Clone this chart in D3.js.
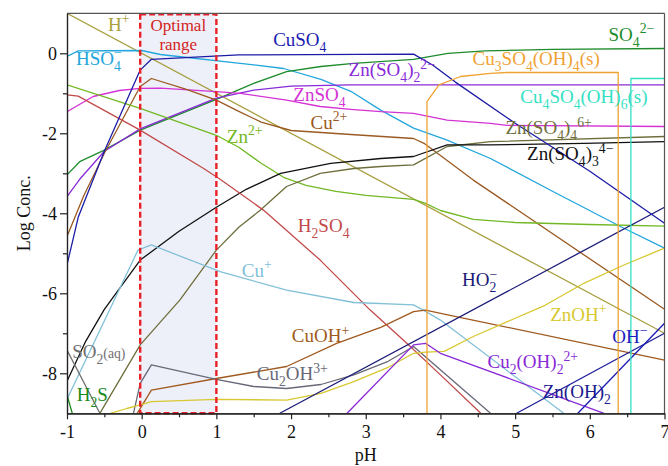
<!DOCTYPE html>
<html>
<head>
<meta charset="utf-8">
<script src="https://cdn.jsdelivr.net/npm/d3@7"></script>
<style>
  body { margin: 0; background: #fff; }
  text { font-family: "Liberation Serif", "Times New Roman", serif; }
</style>
</head>
<body>
<svg id="chart" width="668" height="466"></svg>
<script>
// axis ticks
const xTicks = [-1, 0, 1, 2, 3, 4, 5, 6, 7];
const xMinor = [-0.5, 0.5, 1.5, 2.5, 3.5, 4.5, 5.5, 6.5];
const yTicks = [0, -2, -4, -6, -8];
const yMinor = [-1, -3, -5, -7];
const optimalRange = [-0.02, 1.0];

// species, [pH, log conc.]
const H_plus   = [[-1, 1], [7, -7]];
const HSO4     = [[-1, -0.08], [-0.85, 0.06], [0, 0.07], [0.25, -0.03], [1.32, -0.25], [1.9, -0.38], [2.4, -0.65], [2.8, -0.95], [3.2, -1.42], [3.64, -1.87], [4.09, -2.17], [4.67, -2.63], [5.5, -3.45], [6.41, -4.33], [7, -4.87]];
const CuSO4    = [[-1, -5.29], [-0.85, -4.1], [-0.5, -2.45], [-0.02, -0.42], [0.13, -0.15], [1.3, -0.04], [3.64, -0.02], [3.9, -0.3], [4.2, -0.72], [5, -1.75], [6, -2.95], [7, -4.25]];
const SO4      = [[-1, -3.04], [-0.83, -2.71], [-0.5, -2.42], [-0.02, -1.92], [1, -1.15], [1.5, -0.75], [1.94, -0.46], [2.4, -0.33], [2.84, -0.25], [3.64, -0.15], [4.1, 0.0], [4.6, 0.06], [5.5, 0.1], [7, 0.12]];
const ZnSO4_2  = [[-1, -3.58], [-0.83, -3.15], [-0.5, -2.45], [-0.02, -1.89], [1, -1.12], [1.5, -0.92], [2, -0.82], [2.8, -0.79], [7, -0.79]];
const ZnSO4    = [[-1, -1.46], [-0.65, -1.08], [-0.3, -0.93], [-0.02, -0.875], [0.25, -0.87], [1, -0.96], [1.32, -1.0], [1.94, -1.17], [2.39, -1.33], [2.8, -1.4], [3.2, -1.46], [3.64, -1.5], [4.09, -1.67], [4.67, -1.75], [4.89, -1.8], [7, -1.83]];
const Cu2      = [[-1, -4.58], [-0.78, -3.58], [-0.5, -2.5], [-0.02, -0.83], [0.13, -0.63], [0.6, -0.9], [1, -1.17], [1.3, -1.45], [1.6, -1.72], [2, -1.93], [2.8, -2.03], [3.64, -2.13], [3.78, -2.25], [4.44, -3.17], [7, -6.4]];
const Zn2      = [[-1, -0.79], [-0.02, -1.375], [1, -2.05], [1.3, -2.35], [1.6, -2.75], [1.9, -3.1], [2.2, -3.3], [2.6, -3.45], [3, -3.55], [3.64, -3.65], [3.8, -3.75], [4, -3.93], [4.44, -4.15], [5, -4.23], [6, -4.28], [7, -4.32]];
const ZnSO4_4  = [[-0.56, -9], [-0.02, -7.29], [0.51, -6.17], [1, -4.92], [1.3, -4.35], [1.59, -3.92], [1.94, -3.33], [2.39, -3.0], [2.84, -2.88], [3.2, -2.83], [3.64, -2.79], [4.09, -2.33], [4.67, -2.21], [7, -2.08]];
const ZnSO4_3  = [[-1, -8.2], [-0.75, -7.2], [-0.5, -6.4], [-0.02, -5.17], [0.5, -4.45], [1, -3.85], [1.4, -3.4], [1.86, -3.0], [2.53, -2.75], [3.2, -2.63], [3.64, -2.58], [4.09, -2.29], [4.67, -2.29], [5.92, -2.25], [7, -2.21]];
const H2SO4    = [[-1, -1.04], [-0.85, -1.07], [-0.02, -1.92], [0.83, -2.88], [1.05, -3.15], [1.63, -3.92], [2.39, -5.17], [3.06, -6.42], [3.55, -7.25], [4, -8.04], [4.54, -9]];
const CuPlus   = [[-1, -8.65], [-0.4, -6.3], [-0.05, -4.92], [0.13, -4.79], [1.05, -5.46], [1.94, -5.92], [2.84, -6.23], [3.64, -6.29], [3.77, -6.42], [4, -6.67], [5.65, -9]];
const SO2aq    = [[-1, -7.42], [-0.56, -9]];
const H2S      = [[-1, -8.54], [-0.93, -9]];
const CuOH     = [[-0.06, -9], [0.13, -8.42], [1, -8.13], [1.94, -7.83], [2.61, -7.25], [3.2, -6.85], [3.64, -6.46], [3.8, -6.42], [4.13, -6.55], [7, -7.67]];
const Cu2OH3   = [[-0.11, -9], [-0.02, -8.25], [0.13, -7.79], [1, -8.15], [1.5, -8.33], [1.94, -8.38], [2.4, -8.28], [2.84, -8.04], [3.3, -7.7], [3.64, -7.33], [4.67, -9]];
const ZnOH     = [[-0.42, -9], [-0.2, -8.88], [-0.02, -8.79], [0.13, -8.71], [1, -8.65], [1.94, -8.67], [2.4, -8.5], [2.84, -8.21], [3.3, -7.85], [3.64, -7.5], [3.8, -7.47], [4.05, -7.45], [4.44, -7.08], [5.4, -6.3], [5.92, -5.75], [6.41, -5.33], [7, -4.87]];
const HO2      = [[1.85, -9], [7, -3.85]];
const OH       = [[5.02, -9], [7, -7]];
const ZnOH2    = [[5.84, -9], [7, -6.75]];
const Cu2OH2   = [[2.75, -9], [3.64, -7.29], [3.8, -7.25], [4, -7.5], [6.19, -9]];
const Cu3SO4OH4 = [[3.82, -9.3], [3.82, -1.21], [3.98, -0.79], [4.27, -0.58], [4.67, -0.5], [4.89, -0.48], [6.38, -0.48], [6.38, -9.3]];
const Cu4SO4OH6 = [[6.55, -9.3], [6.55, -0.63], [7.1, -0.63]];

const series = [
  { pts: H_plus, color: '#a8a040' },
  { pts: HSO4, color: '#22a6dc' },
  { pts: SO4, color: '#1e8c2c' },
  { pts: ZnSO4_2, color: '#8a2ad8' },
  { pts: ZnSO4, color: '#d432d4' },
  { pts: Cu2, color: '#9a5a22' },
  { pts: Zn2, color: '#72b824' },
  { pts: ZnSO4_4, color: '#6e6e3c' },
  { pts: ZnSO4_3, color: '#111111' },
  { pts: H2SO4, color: '#c24a4a' },
  { pts: CuPlus, color: '#82c0d8' },
  { pts: SO2aq, color: '#707070' },
  { pts: H2S, color: '#1a8a1a' },
  { pts: CuOH, color: '#a05a20' },
  { pts: Cu2OH3, color: '#686878' },
  { pts: ZnOH, color: '#d8c830' },
  { pts: Cu2OH2, color: '#8a28d8' },
  { pts: HO2, color: '#1a1a78' },
  { pts: OH, color: '#1c1c9a' },
  { pts: ZnOH2, color: '#1a1ab4' },
  { pts: CuSO4, color: '#1c1ca6' },
  { pts: Cu3SO4OH4, color: '#f0a232' },
  { pts: Cu4SO4OH6, color: '#34e0c4' }
];

// label text uses _{} sub, ^{} sup, ^!{} sup stacked over sub, ~{} small
const labels = [
  { t: 'H^{+}', at: [-0.45, 0.56], c: '#a8a040' },
  { t: 'HSO_{4}^!{−}', at: [-0.88, -0.29], c: '#22a6dc' },
  { t: 'CuSO_{4}', at: [1.76, 0.18], c: '#1c1cb0' },
  { t: 'SO_{4}^{2−}', at: [6.25, 0.31], c: '#1e8c2c' },
  { t: 'Zn(SO_{4})_{2}^{2−}', at: [2.77, -0.57], c: '#8a2ad8' },
  { t: 'Cu_{3}SO_{4}(OH)_{4}(s)', at: [4.43, -0.29], c: '#f0a232' },
  { t: 'ZnSO_{4}', at: [2.03, -1.19], c: '#d432d4' },
  { t: 'Cu_{4}SO_{4}(OH)_{6}(s)', at: [5.07, -1.24], c: '#34e0c4' },
  { t: 'Cu^{2+}', at: [2.26, -1.89], c: '#9a5a22' },
  { t: 'Zn(SO_{4})_{4}^{6+}', at: [4.87, -2.02], c: '#6e6e3c' },
  { t: 'Zn^{2+}', at: [1.14, -2.24], c: '#72b824' },
  { t: 'Zn(SO_{4})_{3}^{4−}', at: [5.16, -2.67], c: '#111111' },
  { t: 'H_{2}SO_{4}', at: [2.09, -4.47], c: '#c24a4a' },
  { t: 'Cu^{+}', at: [1.34, -5.59], c: '#82c0d8' },
  { t: 'HO_{2}^!{−}', at: [4.29, -5.82], c: '#1a1a78' },
  { t: 'ZnOH^{+}', at: [5.47, -6.69], c: '#d8c830' },
  { t: 'OH^{−}', at: [6.3, -7.24], c: '#1c1cc0' },
  { t: 'CuOH^{+}', at: [2.01, -7.22], c: '#a05a20' },
  { t: 'SO_{2}~{(aq)}', at: [-0.93, -7.62], c: '#707070' },
  { t: 'Cu_{2}(OH)_{2}^{2+}', at: [4.63, -7.87], c: '#8a28d8' },
  { t: 'Cu_{2}OH^{3+}', at: [1.54, -8.17], c: '#686878' },
  { t: 'H_{2}S', at: [-0.87, -8.69], c: '#1a8a1a' },
  { t: 'Zn(OH)_{2}', at: [5.37, -8.62], c: '#1a1a90' }
];

const svg = d3.select('#chart');
const x = d3.scaleLinear().domain([-1, 7]).range([67, 664.5]);
const y = d3.scaleLinear().domain([-9, 1]).range([413.3, 13.3]);
const [x0, x1] = x.range();
const [yb, yt] = y.range();

svg.append('clipPath').attr('id', 'plot')
  .append('rect').attr('x', x0).attr('y', yt).attr('width', x1 - x0).attr('height', yb - yt);

// optimal range band
svg.append('rect')
  .attr('x', x(optimalRange[0])).attr('y', yt)
  .attr('width', x(optimalRange[1]) - x(optimalRange[0])).attr('height', yb - yt)
  .attr('fill', '#eef0f9');

const line = d3.line().x(d => x(d[0])).y(d => y(d[1]));
svg.append('g').attr('clip-path', 'url(#plot)')
  .selectAll('path').data(series).enter().append('path')
  .attr('d', d => line(d.pts))
  .attr('fill', 'none')
  .attr('stroke', d => d.color)
  .attr('stroke-width', 1.3)
  .attr('stroke-linejoin', 'round');

svg.append('rect')
  .attr('x', x(optimalRange[0])).attr('y', yt + 1)
  .attr('width', x(optimalRange[1]) - x(optimalRange[0])).attr('height', yb - yt - 1)
  .attr('fill', 'none')
  .attr('stroke', '#e8202a').attr('stroke-width', 2.4)
  .attr('stroke-dasharray', '6,3');

const cx = (x(optimalRange[0]) + x(optimalRange[1])) / 2;
svg.append('text').attr('x', cx).attr('y', 31).attr('text-anchor', 'middle')
  .attr('font-size', 17).attr('fill', '#d42424').text('Optimal');
svg.append('text').attr('x', cx).attr('y', 50).attr('text-anchor', 'middle')
  .attr('font-size', 17).attr('fill', '#d42424').text('range');

function richText(el, str, fs) {
  const parts = str.split(/(_\{[^}]*\}|\^!?\{[^}]*\}|~\{[^}]*\})/).filter(s => s);
  let off = 0, lastW = 0;
  parts.forEach(p => {
    let txt = p, size = fs, target = 0, dx = 0;
    if (p[0] === '_') { txt = p.slice(2, -1); size = fs * 0.72; target = fs * 0.3; }
    else if (p.startsWith('^!')) { txt = p.slice(3, -1); size = fs * 0.72; target = -fs * 0.4; dx = -lastW; }
    else if (p[0] === '^') { txt = p.slice(2, -1); size = fs * 0.72; target = -fs * 0.4; }
    else if (p[0] === '~') { txt = p.slice(2, -1); size = fs * 0.72; target = 0; }
    const ts = el.append('tspan').attr('dy', target - off).attr('font-size', size).text(txt);
    if (dx) ts.attr('dx', dx);
    lastW = ts.node().getComputedTextLength();
    off = target;
  });
}

labels.forEach(l => {
  const t = svg.append('text').attr('x', x(l.at[0])).attr('y', y(l.at[1])).attr('fill', l.c);
  richText(t, l.t, 19);
});

// frame
svg.append('line').attr('x1', x0).attr('x2', x1).attr('y1', yt).attr('y2', yt).attr('stroke', '#555').attr('stroke-width', 1.2);
svg.append('line').attr('x1', x1).attr('x2', x1).attr('y1', yt).attr('y2', yb).attr('stroke', '#555').attr('stroke-width', 1.2);

function styleAxis(g) {
  g.attr('font-family', null).attr('font-size', null);
  g.selectAll('path, line').attr('stroke', '#222').attr('stroke-width', 1.2);
  g.selectAll('text').attr('font-size', 18).attr('fill', '#111');
}

svg.append('g').attr('transform', `translate(0,${yb})`)
  .call(d3.axisBottom(x).tickValues(xMinor).tickFormat('').tickSize(4).tickSizeOuter(0))
  .call(styleAxis);
svg.append('g').attr('transform', `translate(0,${yb})`)
  .call(d3.axisBottom(x).tickValues(xTicks).tickFormat(d => String(d)).tickSize(6).tickSizeOuter(0).tickPadding(6))
  .call(styleAxis);
svg.append('g').attr('transform', `translate(${x0},0)`)
  .call(d3.axisLeft(y).tickValues(yMinor).tickFormat('').tickSize(4).tickSizeOuter(0))
  .call(styleAxis);
svg.append('g').attr('transform', `translate(${x0},0)`)
  .call(d3.axisLeft(y).tickValues(yTicks).tickFormat(d => String(d)).tickSize(7).tickSizeOuter(0).tickPadding(3))
  .call(styleAxis);

svg.append('text').attr('x', (x0 + x1) / 2).attr('y', 461).attr('text-anchor', 'middle')
  .attr('font-size', 18).attr('fill', '#111').text('pH');
svg.append('text').attr('transform', `translate(30,${(yt + yb) / 2}) rotate(-90)`)
  .attr('text-anchor', 'middle').attr('font-size', 18).attr('fill', '#111').text('Log Conc.');
</script>
</body>
</html>
